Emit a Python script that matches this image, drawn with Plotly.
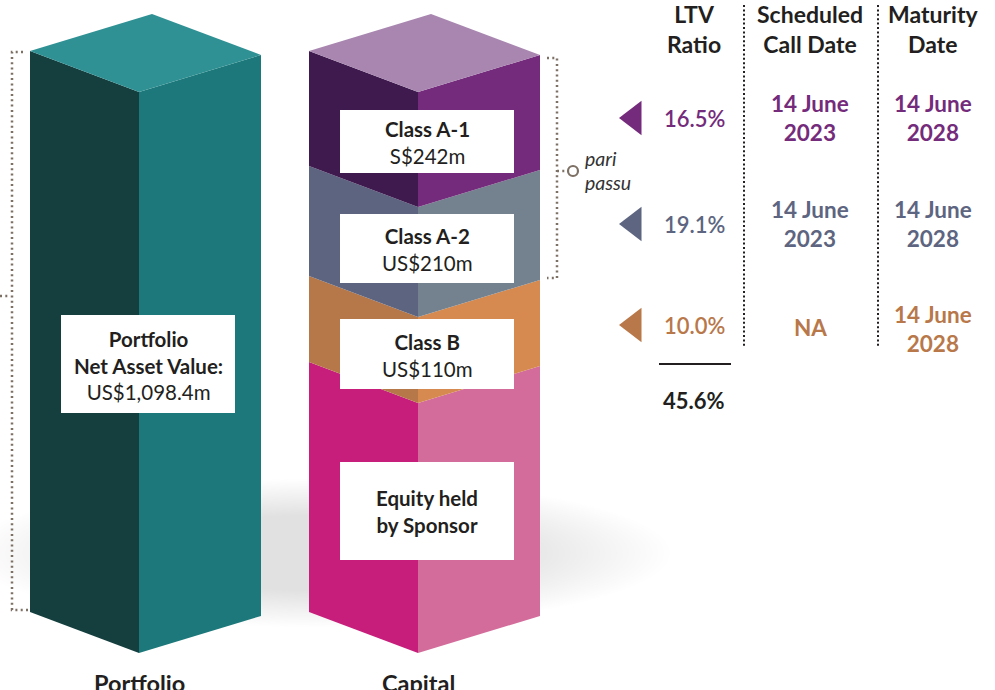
import plotly.graph_objects as go

# ---------------- data ----------------
classes = ["Class A-1", "Class A-2", "Class B"]
amounts = ["S$242m", "US$210m", "US$110m"]
ltv_ratio = [16.5, 19.1, 10.0]
call_dates = ["14 June<br>2023", "14 June<br>2023", "NA"]
maturity_dates = ["14 June<br>2028", "14 June<br>2028", "14 June<br>2028"]
ltv_total = 45.6
portfolio_label = ["Portfolio", "Net Asset Value:"]
portfolio_nav = "US$1,098.4m"
equity_label = ["Equity held", "by Sponsor"]
column_names = ["Portfolio", "Capital"]

# capital stack block heights (illustrative units, bottom -> top)
stack_names = ["Equity held by Sponsor", "Class B", "Class A-2", "Class A-1"]
stack_heights = [250, 86, 110, 115]
portfolio_height = sum(stack_heights)

# ---------------- style / geometry ----------------
BASE = 612            # base of the columns (left edge)
DXL, DXR = 109, 122   # isometric widths
DYC, DYR, DYT = 41, 4, 37
COL_X = {"Portfolio": 30, "Capital": 309}
DARK = "#231f20"
DOT = "#7d7064"

face_colors = {
    "Portfolio": ("#153e3e", "#1c787a", "#309194"),
    "Equity held by Sponsor": ("#c71e7b", "#d46c9b", "#d46c9b"),
    "Class B": ("#b77849", "#d68a4f", "#d68a4f"),
    "Class A-2": ("#5d6480", "#748290", "#8c97a3"),
    "Class A-1": ("#3f1a4f", "#742b7b", "#a886b0"),
}
class_colors = ["#742b7b", "#5d6580", "#b8784a"]
row_y = [118, 224, 325]
box_rows = [(110, 173), (214, 283), (319, 389)]
FONT = "Lato"

fig = go.Figure()
shapes = []
annotations = []

# soft floor shadow
N = 30
for i in range(N):
    k = 1 - i * 0.5 / N
    shapes.append(dict(type="circle", xref="x", yref="y", layer="below",
                       x0=320 - 350 * k, x1=320 + 350 * k,
                       y0=553 - 74 * k, y1=553 + 74 * k,
                       fillcolor="rgba(128,140,146,0.013)", line=dict(width=0)))


def add_block(xl, y_bot, y_top, colors, top=False):
    xc, xr = xl + DXL, xl + DXL + DXR
    left = ([xl, xc, xc, xl, xl], [y_top, y_top + DYC, y_bot + DYC, y_bot, y_top])
    right = ([xc, xr, xr, xc, xc], [y_top + DYC, y_top + DYR, y_bot + DYR, y_bot + DYC, y_top + DYC])
    for (xs, ys), c in ((left, colors[0]), (right, colors[1])):
        fig.add_trace(go.Scatter(x=xs, y=ys, mode="lines", fill="toself", fillcolor=c,
                                 line=dict(width=0), hoverinfo="skip", showlegend=False))
    if top:
        xs = [xl, xl + DXR, xr, xc, xl]
        ys = [y_top, y_top - DYT, y_top + DYR, y_top + DYC, y_top]
        fig.add_trace(go.Scatter(x=xs, y=ys, mode="lines", fill="toself", fillcolor=colors[2],
                                 line=dict(width=0), hoverinfo="skip", showlegend=False))


# portfolio column
add_block(COL_X["Portfolio"], BASE, BASE - portfolio_height, face_colors["Portfolio"], top=True)

# capital column
y = BASE
for i, (name, h) in enumerate(zip(stack_names, stack_heights)):
    add_block(COL_X["Capital"], y, y - h, face_colors[name], top=(i == len(stack_names) - 1))
    y -= h


def box(x0, x1, y0, y1):
    shapes.append(dict(type="rect", xref="x", yref="y", layer="above", x0=x0, x1=x1, y0=y0, y1=y1,
                       fillcolor="white", line=dict(width=0)))


def text(x, y, t, size, color=DARK, xanchor="center", yanchor="middle", family=FONT, weight=None):
    f = dict(family=family, size=size, color=color)
    if weight:
        f["weight"] = weight
    annotations.append(dict(x=x, y=y, xref="x", yref="y", text=t, showarrow=False,
                            xanchor=xanchor, yanchor=yanchor, font=f))


# label boxes on capital column
for (y0, y1), cls, amt in zip(box_rows, classes, amounts):
    box(340, 514, y0, y1)
    text(427, (y0 + y1) / 2 + 1, f"<b>{cls}</b><br>{amt}", 20.5)
box(340, 514, 462, 560)
text(427, 511, "<b>" + "<br>".join(equity_label) + "</b>", 20.5)

# portfolio box
box(61, 235, 315, 413)
text(148, 365, "<b>" + "<br>".join(portfolio_label) + f"</b><br>{portfolio_nav}", 20.5)

# column titles
for name in column_names:
    text(COL_X[name] + DXL, 683, f"<b>{name}</b>", 23.5)

# dotted brackets
def dline(xs, ys, color=DOT, dash="2px,3.3px", width=2.5):
    fig.add_trace(go.Scatter(x=xs, y=ys, mode="lines", line=dict(color=color, width=width, dash=dash),
                             hoverinfo="skip", showlegend=False))

dline([23, 12, 12, 28], [52, 52, 610, 610])
dline([0, 10], [296, 296])
dline([547, 557, 557, 547], [58, 58, 278, 278])
dline([557, 568], [171, 171])
fig.add_trace(go.Scatter(x=[573], y=[171], mode="markers",
                         marker=dict(symbol="circle-open", size=10, line=dict(width=2.2, color=DOT), color=DOT),
                         hoverinfo="skip", showlegend=False))
text(583, 158, "<i>pari</i>", 19.5, color="#333333", xanchor="left")
text(583, 182, "<i>passu</i>", 19.5, color="#333333", xanchor="left")

# table
fig.add_trace(go.Scatter(x=[634] * 3, y=row_y, mode="markers",
                         marker=dict(symbol="triangle-left", size=30, color=class_colors, line=dict(width=0)),
                         hoverinfo="skip", showlegend=False))
for yv, v, c, cd, md in zip(row_y, ltv_ratio, class_colors, call_dates, maturity_dates):
    text(694, yv, f"{v:.1f}%", 22, color=c, weight=600)
    text(810, yv + 2 if cd == "NA" else yv, f"<b>{cd}</b>", 22.5, color=c)
    text(933, yv + 4 if cd == "NA" else yv, f"<b>{md}</b>", 22.5, color=c)

text(694, 29, "<b>LTV<br>Ratio</b>", 23)
text(810, 29, "<b>Scheduled<br>Call Date</b>", 23)
text(933, 29, "<b>Maturity<br>Date</b>", 23)
dline([744, 744], [5, 348], color="#231f20", dash="2px,2.4px", width=2)
dline([878, 878], [5, 348], color="#231f20", dash="2px,2.4px", width=2)
dline([659, 731], [364, 364], color="#231f20", dash="solid", width=2)
text(694, 400, f"<b>{ltv_total:.1f}%</b>", 22)

fig.update_layout(
    width=995, height=690, margin=dict(l=0, r=0, t=0, b=0),
    paper_bgcolor="white", plot_bgcolor="white",
    xaxis=dict(range=[0, 995], visible=False, fixedrange=True),
    yaxis=dict(range=[690, 0], visible=False, fixedrange=True),
    shapes=shapes, annotations=annotations, showlegend=False,
)
fig.write_html("out.html", config={"displayModeBar": False},
               post_script="document.body.style.margin='0';")
